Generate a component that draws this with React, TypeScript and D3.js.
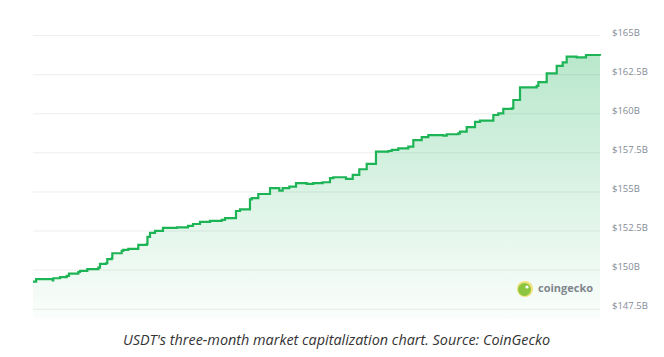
import React from "react";
import * as d3 from "d3";

// Day index (0..90 over three months) where a new market-cap level starts
const days = [0, 0.5, 3.13, 3.22, 4.29, 5.35, 5.71, 7.19, 7.46, 8.62, 10.37, 10.63, 11.59, 11.79, 12.49, 12.59, 14.08, 14.33, 15.13, 16.71, 18.05, 18.17, 18.57, 19.37, 20.63, 22.86, 24.6, 25.4, 26.51, 28.1, 29.95, 30.48, 32.22, 32.86, 34.44, 34.71, 35.76, 37.62, 39.1, 39.63, 40.68, 41.75, 43.44, 44.49, 45.98, 47.14, 47.67, 49.68, 50.75, 51.79, 52.97, 54.44, 56.4, 56.94, 57.98, 59.57, 60.37, 61.7, 62.75, 65.13, 65.67, 67.51, 67.78, 68.84, 70.16, 70.95, 73.07, 73.86, 74.65, 75.99, 76.24, 77.3, 79.95, 80.21, 81.54, 83.13, 84.08, 84.71, 86.3, 87.78, 90];
// USDT market cap, billions USD
const caps = [149.26, 149.42, 149.35, 149.48, 149.55, 149.63, 149.78, 149.88, 149.95, 150.06, 150.16, 150.4, 150.44, 150.7, 150.76, 151.08, 151.23, 151.29, 151.36, 151.61, 151.68, 152.12, 152.38, 152.51, 152.7, 152.73, 152.83, 152.95, 153.08, 153.15, 153.21, 153.32, 153.78, 153.89, 154.53, 154.6, 154.87, 155.24, 155.08, 155.24, 155.34, 155.56, 155.51, 155.56, 155.62, 155.88, 155.94, 155.83, 156.09, 156.45, 156.79, 157.58, 157.62, 157.69, 157.79, 157.9, 158.32, 158.5, 158.64, 158.6, 158.69, 158.75, 158.86, 159.14, 159.48, 159.56, 159.92, 160.03, 160.31, 160.35, 160.88, 161.69, 161.78, 162.03, 162.59, 163.06, 163.29, 163.65, 163.61, 163.76, 163.71];

const yTicks = [147.5, 150, 152.5, 155, 157.5, 160, 162.5, 165];
const yTickLabels = ["$147.5B", "$150B", "$152.5B", "$155B", "$157.5B", "$160B", "$162.5B", "$165B"];
const caption = "USDT's three-month market capitalization chart. Source: CoinGecko";
const brand = "coingecko";

export default function App() {
  const W = 664, H = 357;
  const x = d3.scaleLinear().domain([0, 90]).range([33, 600]);
  const y = d3.scaleLinear().domain([147.5, 165]).range([309.2, 35.6]);
  const pts = days.map((d, i) => ({ d, v: caps[i] }));
  const line = d3.line<any>().x(p => x(p.d)).y(p => y(p.v)).curve(d3.curveStepAfter);
  const area = d3.area<any>().x(p => x(p.d)).y0(y(146.9)).y1(p => y(p.v)).curve(d3.curveStepAfter);

  return (
    <svg width={W} height={H} style={{ position: "absolute", left: 0, top: 0, background: "#fff" }}
      fontFamily="'Open Sans', sans-serif">
      <defs>
        <linearGradient id="fillGrad" gradientUnits="userSpaceOnUse" x1="0" y1={y(163.8)} x2="0" y2={y(146.9)}>
          <stop offset="0" stopColor="rgb(22,177,85)" stopOpacity={0.3} />
          <stop offset="1" stopColor="rgb(22,177,85)" stopOpacity={0.02} />
        </linearGradient>
      </defs>
      {yTicks.map((t, i) => (
        <g key={t}>
          <line x1={33} x2={600} y1={y(t)} y2={y(t)} stroke="#ededed" strokeWidth={1} />
          <text x={612} y={y(t)} fontSize={9.5} fill="#858b97">{yTickLabels[i]}</text>
        </g>
      ))}
      <path d={area(pts) || ""} fill="url(#fillGrad)" />
      <path d={line(pts) || ""} fill="none" stroke="#1db456" strokeWidth={2.2} strokeLinejoin="miter" />
      <g>
        <circle cx={525} cy={289} r={8} fill="#f0e27a" />
        <circle cx={524.5} cy={289.5} r={6.5} fill="#8cc540" />
        <circle cx={527} cy={287} r={1.6} fill="#fff" />
        <text x={538} y={292} fontSize={11} fontWeight={700} fill="#80858d">{brand}</text>
      </g>
      <text x={336.5} y={345} textAnchor="middle" fontSize={14.4} fontStyle="italic" fill="#333">{caption}</text>
    </svg>
  );
}
